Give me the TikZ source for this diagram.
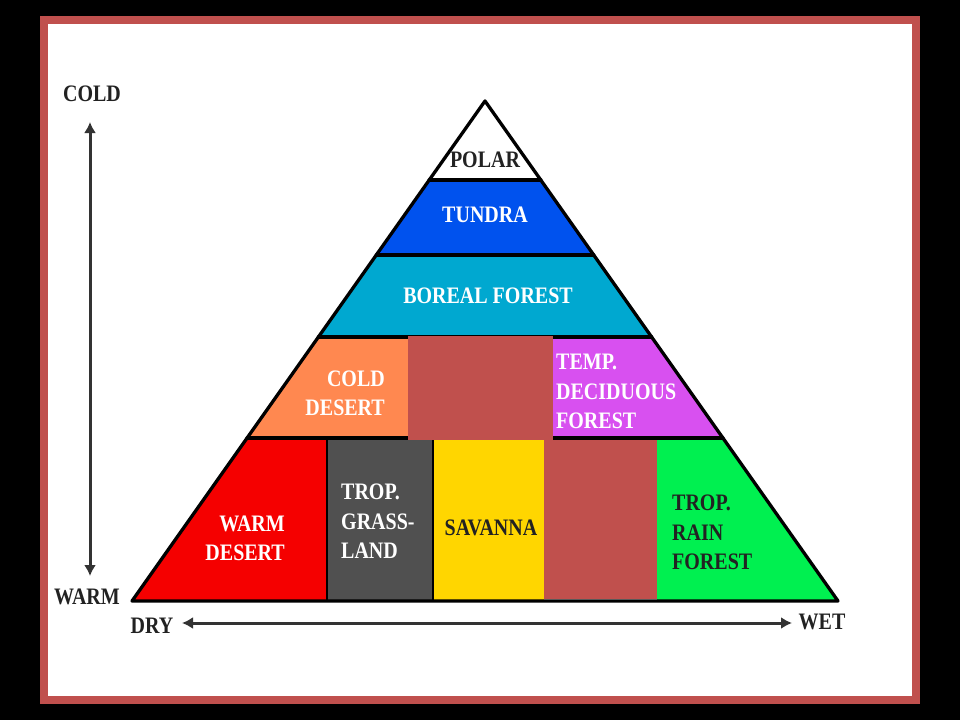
\documentclass[tikz,border=0pt]{standalone}
\usepackage{fontspec}
\setmainfont{Liberation Serif}
\usepackage{graphicx}
\usetikzlibrary{arrows.meta}
\definecolor{framered}{RGB}{192,80,77}
\definecolor{brownblk}{RGB}{192,80,77}
\definecolor{tundrac}{RGB}{0,82,238}
\definecolor{borealc}{RGB}{0,168,208}
\definecolor{colddes}{RGB}{255,136,80}
\definecolor{tempdec}{RGB}{216,80,240}
\definecolor{warmdes}{RGB}{245,0,0}
\definecolor{grassc}{RGB}{80,80,80}
\definecolor{savc}{RGB}{255,214,0}
\definecolor{rainc}{RGB}{0,240,80}
\definecolor{textdark}{RGB}{34,34,34}
\definecolor{arrowc}{RGB}{51,51,51}
\newcommand{\bl}[2][c]{\scalebox{1}[1.18]{\begin{tabular}{@{}#1@{}}#2\end{tabular}}}
\tikzset{
  lbl/.style={inner sep=0pt, font=\fontsize{20}{25.4}\selectfont\bfseries},
  wt/.style={lbl, text=white},
  dk/.style={lbl, text=textdark},
  edge/.style={line width=3.3pt, black, line cap=round, line join=round},
  axisarrow/.style={line width=3pt, draw=arrowc, {Latex[length=11pt,width=12pt]}-{Latex[length=11pt,width=12pt]}}
}
\begin{document}
\begin{tikzpicture}[x=1pt,y=-1pt]
% background and frame
\fill[black] (0,0) rectangle (960,720);
\fill[framered] (40,16) rectangle (920,704);
\fill[white] (48,24) rectangle (912,696);
\useasboundingbox (0,0) rectangle (960,720);
% bands
\fill[white]   (485,101) -- (540.8,180) -- (429.2,180) -- cycle;
\fill[tundrac] (429.2,180) -- (540.8,180) -- (593.7,255) -- (376.3,255) -- cycle;
\fill[borealc] (376.3,255) -- (593.7,255) -- (651.6,337) -- (318.4,337) -- cycle;
\fill[colddes] (318.4,337) -- (408,337) -- (408,438) -- (247.1,438) -- cycle;
\fill[tempdec] (553,337) -- (651.6,337) -- (722.9,438) -- (553,438) -- cycle;
\fill[warmdes] (247.1,438) -- (327,438) -- (327,601) -- (132,601) -- cycle;
\fill[grassc]  (327,438) rectangle (433,601);
\fill[savc]    (433,438) rectangle (544,601);
\fill[rainc]   (657,438) -- (722.9,438) -- (838,601) -- (657,601) -- cycle;
% outlines
\draw[edge] (485,101) -- (838,601) -- (132,601) -- cycle;
\draw[edge] (429.2,180) -- (540.8,180);
\draw[edge] (376.3,255) -- (593.7,255);
\draw[edge] (318.4,337) -- (651.6,337);
\draw[edge] (247.1,438) -- (722.9,438);
\draw[line width=2.8pt,black] (327,438) -- (327,601);
\draw[line width=2.8pt,black] (433,438) -- (433,601);
% brown blocks on top
\fill[brownblk] (408,336) rectangle (553,440);
\fill[brownblk] (544,440) rectangle (657,599);
% labels
\node[dk] (polar) at (485,162) {\bl{POLAR}};
\node[wt] (tundra) at (485,217) {\bl{TUNDRA}};
\node[wt] (boreal) at (488,298) {\bl{BOREAL FOREST}};
\node[wt,anchor=east] (colddesert) at (385,395) {\bl[r]{COLD\\DESERT}};
\node[wt,anchor=west] (temp) at (556,393) {\bl[l]{TEMP.\\DECIDUOUS\\FOREST}};
\node[wt,anchor=east] (warmdesert) at (285,540) {\bl[r]{WARM\\DESERT}};
\node[wt,anchor=west] (grass) at (341,523) {\bl[l]{TROP.\\GRASS-\\LAND}};
\node[dk] (savanna) at (491,529) {\bl{SAVANNA}};
\node[dk,anchor=west] (rain) at (672,534) {\bl[l]{TROP.\\RAIN\\FOREST}};
% axes
\node[dk] (cold) at (92,96) {\bl{COLD}};
\node[dk] (warm) at (87,598) {\bl{WARM}};
\node[dk] (dry) at (152,627) {\bl{DRY}};
\node[dk] (wet) at (822,623) {\bl{WET}};
\coordinate (vtop) at (90,122);
\coordinate (vbot) at (90,576);
\coordinate (hleft) at (182,623);
\coordinate (hright) at (792,623);
\draw[axisarrow] (vtop) -- (vbot);
\draw[axisarrow] (hleft) -- (hright);
\end{tikzpicture}
\end{document}
